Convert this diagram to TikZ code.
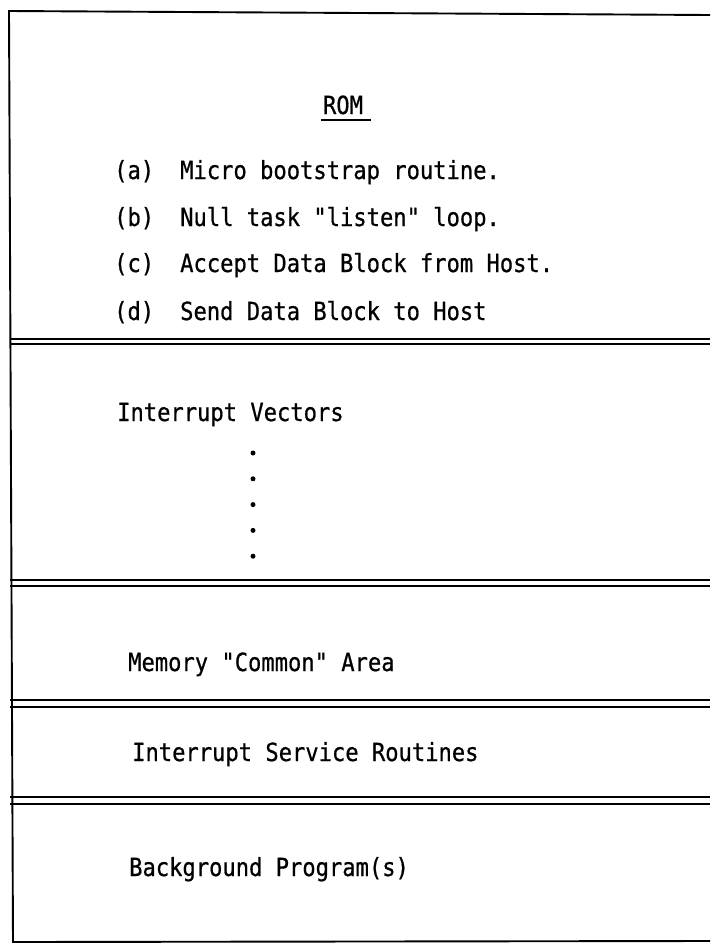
\documentclass[tikz,border=0pt]{standalone}
\usepackage{fontspec}
\newfontfamily\typewriter[FakeStretch=0.885,FakeBold=0.7]{DejaVu Sans Mono}
\begin{document}
\begin{tikzpicture}[x=1pt,y=-1pt,
  frame/.style={line width=1.9pt,black},
  rule/.style={line width=1.6pt,black},
  label/.style={anchor=base west,inner sep=0pt,font=\typewriter\fontsize{25}{28}\selectfont},
  vdot/.style={circle,fill=black,inner sep=0pt,minimum size=5pt}]
\useasboundingbox (0,0) rectangle (710,943);
\fill[white] (0,0) rectangle (710,943);

% outer frame (open on the right)
\draw[frame] (710,15) -- (9,11) -- (13,942) -- (710,941);

% double rules between the memory areas
\foreach \ya/\yb in {339/344, 580/586, 700/707, 797/804}{
  \draw[rule] (10,\ya) -- (710,\ya);
  \draw[rule] (10,\yb) -- (710,\yb);
}

% ROM heading
\node[label,anchor=base] (rom) at (343,114) {ROM};
\draw[line width=1.6pt] (rom.base west) ++(-2,6) -- ++(50,0);

% ROM contents
\node[label] (la) at (114,179) {(a)};
\node[label] (ta) at (180,179) {Micro bootstrap routine.};
\node[label] (lb) at (114,226) {(b)};
\node[label] (tb) at (180,226) {Null task "listen" loop.};
\node[label] (lc) at (114,272) {(c)};
\node[label] (tc) at (180,272) {Accept Data Block from Host.};
\node[label] (ld) at (114,320) {(d)};
\node[label] (td) at (180,320) {Send Data Block to Host};

% interrupt vector table
\node[label] (iv) at (117,421) {Interrupt Vectors};
\foreach \k in {0,...,4}{
  \node[vdot] (d\k) at (253,453+25.8*\k) {};
}

% remaining areas
\node[label] (mca) at (128,671) {Memory "Common" Area};
\node[label] (isr) at (132,761) {Interrupt Service Routines};
\node[label] (bgp) at (129,876) {Background Program(s)};
\end{tikzpicture}
\end{document}
